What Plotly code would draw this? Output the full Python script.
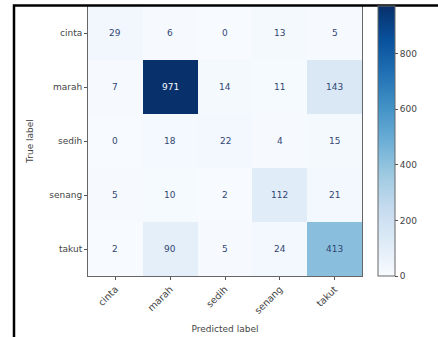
import plotly.graph_objects as go

labels = ["cinta", "marah", "sedih", "senang", "takut"]
values = [
    [29, 6, 0, 13, 5],
    [7, 971, 14, 11, 143],
    [0, 18, 22, 4, 15],
    [5, 10, 2, 112, 21],
    [2, 90, 5, 24, 413],
]
cbar_ticks = [0, 200, 400, 600, 800]

blues = ['rgb(247,251,255)', 'rgb(222,235,247)', 'rgb(198,219,239)', 'rgb(158,202,225)',
         'rgb(107,174,214)', 'rgb(66,146,198)', 'rgb(33,113,181)', 'rgb(8,81,156)', 'rgb(8,48,107)']
cscale = [[i / (len(blues) - 1), c] for i, c in enumerate(blues)]

W, H = 438, 337
L, R, T, B = 88, 76, 5, 59
pw, ph = W - L - R, H - T - B
FONT = "DejaVu Sans"

zmax = max(max(r) for r in values)
zmin = min(min(r) for r in values)
thresh = (zmax + zmin) / 2

fig = go.Figure(go.Heatmap(
    z=values, x=labels, y=labels, colorscale=cscale, zmin=zmin, zmax=zmax,
    colorbar=dict(
        thickness=17, len=1, lenmode="fraction", y=0.5, yanchor="middle",
        x=(378 - L) / pw, xanchor="left", xpad=0, ypad=0,
        tickvals=cbar_ticks, ticks="outside", ticklen=3, tickcolor="#555",
        tickfont=dict(family=FONT, size=9, color="#444"),
        outlinewidth=1, outlinecolor="#666",
    ),
    hoverinfo="skip",
))

annotations = []
for i, row_lab in enumerate(labels):
    for j, col_lab in enumerate(labels):
        v = values[i][j]
        annotations.append(dict(
            x=col_lab, y=row_lab, text=str(v), showarrow=False,
            font=dict(family=FONT, size=9,
                      color="rgb(247,251,255)" if v > thresh else "rgb(50,70,115)"),
        ))

fx = lambda px: (px - L) / pw
fy = lambda py: (H - B - py) / ph

fig.update_layout(
    width=W, height=H,
    margin=dict(l=L, r=R, t=T, b=B),
    paper_bgcolor="white", plot_bgcolor="white",
    font=dict(family=FONT, size=9, color="#444"),
    annotations=annotations,
    xaxis=dict(
        title=dict(text="Predicted label", font=dict(size=9, color="#444"), standoff=10),
        tickangle=-45, ticks="outside", ticklen=3, tickcolor="#555",
        tickfont=dict(size=9.5),
        showline=True, linecolor="#666", linewidth=1, mirror=True,
        showgrid=False, zeroline=False,
    ),
    yaxis=dict(
        title=dict(text="True label", font=dict(size=9, color="#444"), standoff=14),
        autorange="reversed", ticks="outside", ticklen=3, tickcolor="#555",
        showline=True, linecolor="#666", linewidth=1, mirror=True,
        showgrid=False, zeroline=False,
    ),
    shapes=[
        dict(type="path", xref="paper", yref="paper",
             path=f"M {fx(14)} {fy(340)} L {fx(14)} {fy(4.5)} L {fx(440)} {fy(4.5)}",
             line=dict(color="black", width=2.5)),
    ],
)

fig.write_html("out.html")
